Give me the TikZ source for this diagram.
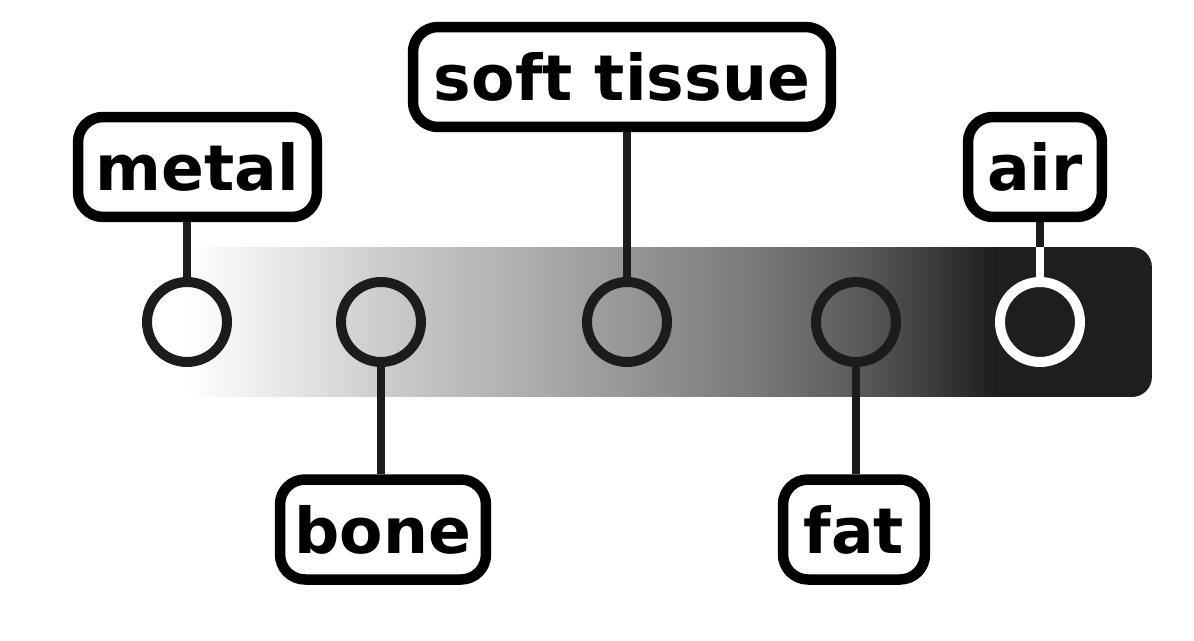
\documentclass[tikz,border=0pt]{standalone}
\usepackage{fontspec}
\setmainfont{DejaVu Sans}
\usepackage{tikz}
\usepackage{xcolor}
\definecolor{ink}{HTML}{1C1C1C}
\definecolor{bardark}{HTML}{1E1E1E}
\pgfdeclarehorizontalshading{ctbar}{100bp}{
  color(0bp)=(white); color(25bp)=(white);
  color(31bp)=(black!11); color(35.2bp)=(black!20);
  color(41.3bp)=(black!30); color(47.9bp)=(black!41);
  color(54.2bp)=(black!52); color(59.7bp)=(black!64);
  color(64bp)=(black!78); color(66.9bp)=(bardark);
  color(75bp)=(bardark); color(100bp)=(bardark)}

\begin{document}
\begin{tikzpicture}[
      x=0.02cm, y=-0.02cm,
      tag/.style={
        draw=black, line width=0.21cm, rounded corners=0.5cm, fill=white,
        font=\fontsize{36}{40}\selectfont\bfseries, text=black,
        minimum height=2cm, inner sep=0pt
      },
      dot/.style={
        circle, draw=ink, line width=0.2cm, minimum size=1.6cm, inner sep=0pt
      },
      stem/.style={draw=ink, line width=0.16cm},
      scale bar/.style={
        shading=ctbar, rounded corners=0.4cm, inner sep=0pt,
        minimum width=19.34cm, minimum height=3cm
      }
    ]
    \useasboundingbox (0,0) rectangle (1194,640);

    % attenuation scale
    \node[scale bar] (bar) at (668.5,322) {};

    \node[dot] (metaldot) at (187,322) {};
    \node[dot] (bonedot) at (381,322) {};
    \node[dot] (tissuedot) at (627,322) {};
    \node[dot] (fatdot) at (856,322) {};
    \node[dot, draw=white] (airdot) at (1040,322) {};

    \node[tag, minimum width=4.78cm] (metal) at (197.5,167) {metal};
    \node[tag, minimum width=8.36cm] (tissue) at (622,77) {soft tissue};
    \node[tag, minimum width=2.68cm] (air) at (1035,167) {air};
    \node[tag, minimum width=4.12cm] (bone) at (383,529.5) {bone};
    \node[tag, minimum width=2.84cm] (fat) at (854,529.5) {fat};

    \draw[stem] (metaldot |- metal.south) -- (metaldot.north);
    \draw[stem] (tissuedot |- tissue.south) -- (tissuedot.north);
    \draw[stem] (bonedot.south) -- (bonedot |- bone.north);
    \draw[stem] (fatdot.south) -- (fatdot |- fat.north);
    \draw[stem] (airdot |- air.south) -- (airdot |- bar.north);
    \draw[stem, draw=white] (airdot |- bar.north) -- (airdot.north);
  \end{tikzpicture}
\end{document}
